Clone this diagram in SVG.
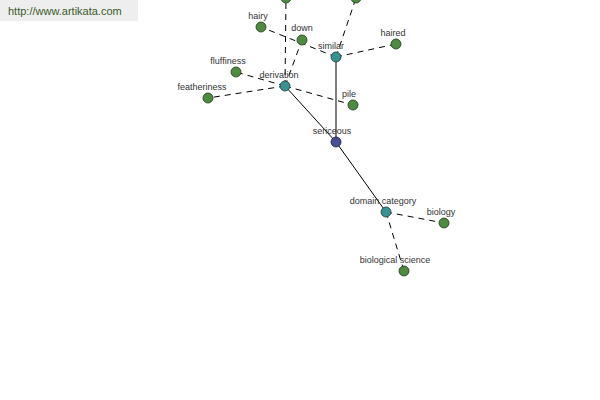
<svg xmlns="http://www.w3.org/2000/svg" width="600" height="400" viewBox="0 0 600 400">
<style>
.bg{fill:#ffffff}
.s{stroke:#000;stroke-width:1;fill:none}
.d{stroke:#000;stroke-width:1;fill:none;stroke-dasharray:6,5}
.g{fill:#4e8a3f;stroke:#1f3a1a;stroke-width:0.8}
.t{fill:#3b9090;stroke:#1a3a3a;stroke-width:0.8}
.b{fill:#464e94;stroke:#1a1d3a;stroke-width:0.8}
text{font-family:"Liberation Sans",Arial,sans-serif;font-size:9px;fill:#333;text-anchor:middle}
</style>
<rect class="bg" width="600" height="400"/>
<rect x="0" y="0" width="138" height="21" fill="#eeeeee"/>
<text x="8" y="15" style="text-anchor:start;font-size:11px;fill:#3a5a2a">http://www.artikata.com</text>
<g id="connectors">
<line class="s" x1="336" y1="142" x2="336" y2="57"/>
<line class="s" x1="336" y1="142" x2="285" y2="86"/>
<line class="s" x1="336" y1="142" x2="386" y2="212"/>
<line class="d" x1="336" y1="57" x2="396" y2="44"/>
<line class="d" x1="336" y1="57" x2="356" y2="-2"/>
<line class="d" x1="336" y1="57" x2="261" y2="27"/>
<line class="d" x1="285" y1="86" x2="286" y2="-2"/>
<line class="d" x1="285" y1="86" x2="302" y2="40"/>
<line class="d" x1="285" y1="86" x2="236" y2="72"/>
<line class="d" x1="285" y1="86" x2="208" y2="98"/>
<line class="d" x1="285" y1="86" x2="353" y2="105"/>
<line class="d" x1="386" y1="212" x2="444" y2="223"/>
<line class="d" x1="386" y1="212" x2="404" y2="271"/>
</g>
<g id="n-top1"><circle class="g" cx="286" cy="-2" r="5"/></g>
<g id="n-top2"><circle class="g" cx="356" cy="-2" r="5"/></g>
<g id="n-hairy"><circle class="g" cx="261" cy="27" r="5"/><text x="258" y="19">hairy</text></g>
<g id="n-down"><circle class="g" cx="302" cy="40" r="5"/><text x="302" y="31">down</text></g>
<g id="n-haired"><circle class="g" cx="396" cy="44" r="5"/><text x="393" y="36">haired</text></g>
<g id="n-fluffiness"><circle class="g" cx="236" cy="72" r="5"/><text x="228" y="64">fluffiness</text></g>
<g id="n-featheriness"><circle class="g" cx="208" cy="98" r="5"/><text x="202" y="90">featheriness</text></g>
<g id="n-pile"><circle class="g" cx="353" cy="105" r="5"/><text x="349" y="97">pile</text></g>
<g id="n-similar"><circle class="t" cx="336" cy="57" r="5"/><text x="331" y="49">similar</text></g>
<g id="n-derivation"><circle class="t" cx="285" cy="86" r="5"/><text x="279" y="78">derivation</text></g>
<g id="n-sericeous"><circle class="b" cx="336" cy="142" r="5"/><text x="332" y="134">sericeous</text></g>
<g id="n-domain"><circle class="t" cx="386" cy="212" r="5"/><text x="383" y="204">domain category</text></g>
<g id="n-biology"><circle class="g" cx="444" cy="223" r="5"/><text x="441" y="215">biology</text></g>
<g id="n-biosci"><circle class="g" cx="404" cy="271" r="5"/><text x="395" y="263">biological science</text></g>
</svg>
